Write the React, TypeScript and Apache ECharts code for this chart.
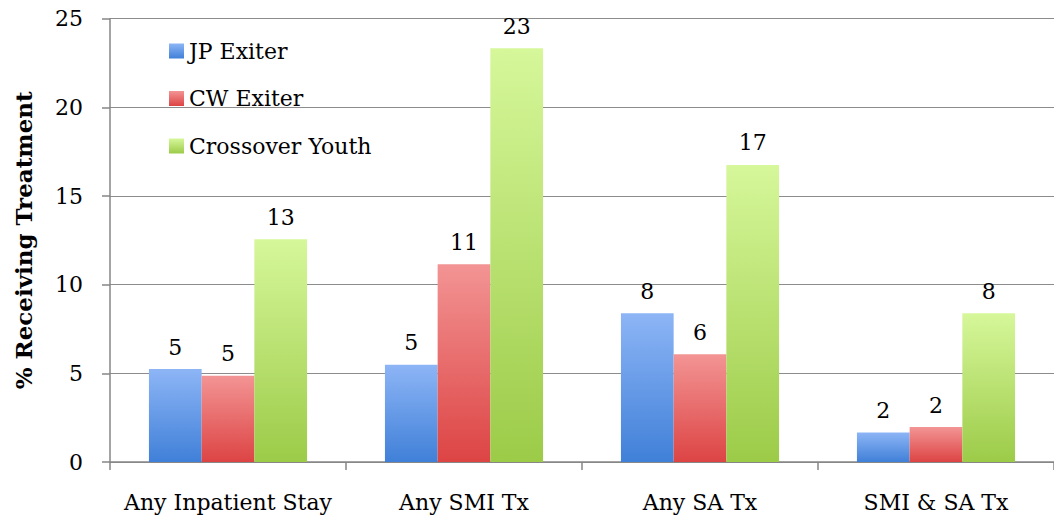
import React, { useEffect, useRef } from "react";
import * as echarts from "echarts";

const categories = ["Any Inpatient Stay", "Any SMI Tx", "Any SA Tx", "SMI & SA Tx"];
const seriesNames = ["JP Exiter", "CW Exiter", "Crossover Youth"];
const jpExiter = [5.24, 5.49, 8.39, 1.67];
const cwExiter = [4.87, 11.15, 6.07, 1.97];
const crossoverYouth = [12.56, 23.33, 16.75, 8.39];
const yTicks = { min: 0, max: 25, interval: 5 };

const FONT = "'DejaVu Serif', serif";

const gradients = [
  ["#8db5f6", "#4080d8"],
  ["#f39494", "#dd4444"],
  ["#d6f79a", "#9ccb48"],
];

export default function App() {
  const ref = useRef<HTMLDivElement>(null);
  useEffect(() => {
    if (!ref.current) return;
    const chart = echarts.init(ref.current, undefined, { renderer: "svg" });
    const data = [jpExiter, cwExiter, crossoverYouth];
    chart.setOption({
      animation: false,
      backgroundColor: "#ffffff",
      textStyle: { fontFamily: FONT },
      grid: { left: 110, top: 18.7, bottom: 61, width: 951, containLabel: false },
      legend: {
        orient: "vertical",
        left: 164,
        top: 34,
        itemWidth: 15,
        itemHeight: 15,
        itemGap: 23.5,
        icon: "rect",
        textStyle: { fontFamily: FONT, fontSize: 22, color: "#000", lineHeight: 24, padding: [0, 0, 0, 0] },
        data: seriesNames,
      },
      xAxis: {
        type: "category",
        data: categories,
        axisLine: { lineStyle: { color: "#868686", width: 1.5 } },
        axisTick: { show: true, length: 8, lineStyle: { color: "#868686", width: 1.5 } },
        axisLabel: { fontFamily: FONT, fontSize: 22, color: "#000", margin: 29, interval: 0 },
        splitLine: { show: false },
      },
      yAxis: {
        type: "value",
        min: yTicks.min,
        max: yTicks.max,
        interval: yTicks.interval,
        name: "% Receiving Treatment",
        nameLocation: "middle",
        nameGap: 75,
        nameTextStyle: { fontFamily: FONT, fontSize: 23, fontWeight: "bold", color: "#000" },
        axisLine: { show: true, lineStyle: { color: "#868686", width: 1.5 } },
        axisTick: { show: true, length: 8, lineStyle: { color: "#868686", width: 1.5 } },
        axisLabel: { fontFamily: FONT, fontSize: 22, color: "#000", margin: 27 },
        splitLine: { show: true, lineStyle: { color: "#8c8c8c", width: 1.2 } },
      },
      series: seriesNames.map((name, i) => ({
        name,
        type: "bar",
        data: data[i],
        barGap: "0%",
        barCategoryGap: "33%",
        itemStyle: {
          color: new echarts.graphic.LinearGradient(0, 0, 0, 1, [
            { offset: 0, color: gradients[i][0] },
            { offset: 1, color: gradients[i][1] },
          ]),
        },
        label: {
          show: true,
          position: "top",
          distance: 11,
          fontFamily: FONT,
          fontSize: 22,
          color: "#000",
          formatter: (p: any) => String(Math.round(p.value)),
        },
      })),
    });
    return () => chart.dispose();
  }, []);
  return (
    <div
      ref={ref}
      style={{ position: "fixed", left: 0, top: 0, width: 1054, height: 523 }}
    />
  );
}
